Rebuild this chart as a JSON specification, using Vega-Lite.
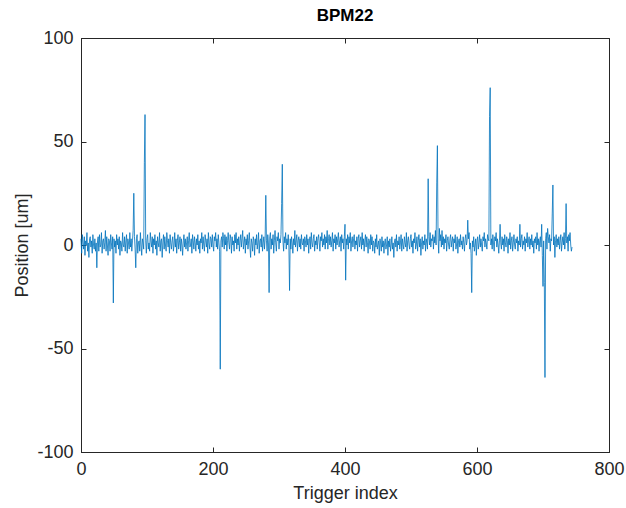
{
"$schema":"https://vega.github.io/schema/vega-lite/v6.json",
"autosize":"none",
"width":528,"height":414,
"padding":{"left":81,"top":38,"right":17,"bottom":56},
"background":"white",
"title":{"text":"BPM22","font":"Liberation Sans","fontSize":17,"fontWeight":"bold","color":"#000000","offset":4},
"config":{"view":{"stroke":"#262626","strokeWidth":1},
"axis":{"grid":false,"domainColor":"#262626","tickColor":"#262626","labelColor":"#262626","titleColor":"#262626","labelFont":"Liberation Sans","titleFont":"Liberation Sans","labelFontSize":18,"titleFontSize":18,"titleFontWeight":"normal","tickSize":-5,"labelFlush":false,"labelExpr":"toString(datum.value)"}},
"data":{"values":[
{"i":0,"v":3},{"i":1,"v":-4},{"i":2,"v":5},{"i":3,"v":1},{"i":4,"v":-2},{"i":5,"v":4},{"i":6,"v":-5},{"i":7,"v":2},{"i":8,"v":0},{"i":9,"v":6},{"i":10,"v":-3},{"i":11,"v":1},{"i":12,"v":-6},{"i":13,"v":3},{"i":14,"v":4},{"i":15,"v":-1},{"i":16,"v":2},{"i":17,"v":-4},{"i":18,"v":5},{"i":19,"v":0},
{"i":20,"v":-2},{"i":21,"v":3},{"i":22,"v":-3},{"i":23,"v":1},{"i":24,"v":-11},{"i":25,"v":2},{"i":26,"v":4},{"i":27,"v":-3},{"i":28,"v":5},{"i":29,"v":-1},{"i":30,"v":0},{"i":31,"v":6},{"i":32,"v":-4},{"i":33,"v":2},{"i":34,"v":3},{"i":35,"v":-2},{"i":36,"v":1},{"i":37,"v":7},{"i":38,"v":-3},{"i":39,"v":4},
{"i":40,"v":0},{"i":41,"v":-5},{"i":42,"v":3},{"i":43,"v":2},{"i":44,"v":-3},{"i":45,"v":5},{"i":46,"v":1},{"i":47,"v":-2},{"i":48,"v":4},{"i":49,"v":-28},{"i":50,"v":3},{"i":51,"v":-1},{"i":52,"v":2},{"i":53,"v":-4},{"i":54,"v":5},{"i":55,"v":0},{"i":56,"v":3},{"i":57,"v":-2},{"i":58,"v":4},{"i":59,"v":-5},
{"i":60,"v":2},{"i":61,"v":1},{"i":62,"v":-3},{"i":63,"v":6},{"i":64,"v":0},{"i":65,"v":-1},{"i":66,"v":4},{"i":67,"v":-3},{"i":68,"v":2},{"i":69,"v":5},{"i":70,"v":-4},{"i":71,"v":3},{"i":72,"v":1},{"i":73,"v":-2},{"i":74,"v":6},{"i":75,"v":-1},{"i":76,"v":3},{"i":77,"v":-3},{"i":78,"v":2},{"i":79,"v":7},
{"i":80,"v":25},{"i":81,"v":4},{"i":82,"v":-2},{"i":83,"v":-11},{"i":84,"v":3},{"i":85,"v":5},{"i":86,"v":-4},{"i":87,"v":1},{"i":88,"v":2},{"i":89,"v":-3},{"i":90,"v":6},{"i":91,"v":0},{"i":92,"v":-5},{"i":93,"v":3},{"i":94,"v":1},{"i":95,"v":-2},{"i":96,"v":40},{"i":97,"v":63},{"i":98,"v":2},{"i":99,"v":-4},
{"i":100,"v":3},{"i":101,"v":5},{"i":102,"v":-2},{"i":103,"v":1},{"i":104,"v":-3},{"i":105,"v":6},{"i":106,"v":2},{"i":107,"v":-1},{"i":108,"v":4},{"i":109,"v":-4},{"i":110,"v":3},{"i":111,"v":0},{"i":112,"v":5},{"i":113,"v":-2},{"i":114,"v":2},{"i":115,"v":-5},{"i":116,"v":4},{"i":117,"v":1},{"i":118,"v":-1},{"i":119,"v":6},
{"i":120,"v":-3},{"i":121,"v":2},{"i":122,"v":3},{"i":123,"v":-6},{"i":124,"v":1},{"i":125,"v":5},{"i":126,"v":-2},{"i":127,"v":4},{"i":128,"v":0},{"i":129,"v":-3},{"i":130,"v":6},{"i":131,"v":2},{"i":132,"v":-1},{"i":133,"v":3},{"i":134,"v":-4},{"i":135,"v":5},{"i":136,"v":1},{"i":137,"v":-2},{"i":138,"v":2},{"i":139,"v":4},
{"i":140,"v":-3},{"i":141,"v":0},{"i":142,"v":6},{"i":143,"v":-1},{"i":144,"v":3},{"i":145,"v":-4},{"i":146,"v":2},{"i":147,"v":5},{"i":148,"v":-2},{"i":149,"v":1},{"i":150,"v":4},{"i":151,"v":-3},{"i":152,"v":3},{"i":153,"v":0},{"i":154,"v":-5},{"i":155,"v":2},{"i":156,"v":5},{"i":157,"v":-1},{"i":158,"v":3},{"i":159,"v":-2},
{"i":160,"v":1},{"i":161,"v":4},{"i":162,"v":-3},{"i":163,"v":2},{"i":164,"v":6},{"i":165,"v":-1},{"i":166,"v":0},{"i":167,"v":3},{"i":168,"v":-4},{"i":169,"v":5},{"i":170,"v":2},{"i":171,"v":-2},{"i":172,"v":4},{"i":173,"v":1},{"i":174,"v":-3},{"i":175,"v":3},{"i":176,"v":0},{"i":177,"v":5},{"i":178,"v":-2},{"i":179,"v":2},
{"i":180,"v":-4},{"i":181,"v":3},{"i":182,"v":1},{"i":183,"v":6},{"i":184,"v":-2},{"i":185,"v":4},{"i":186,"v":0},{"i":187,"v":-3},{"i":188,"v":5},{"i":189,"v":2},{"i":190,"v":-1},{"i":191,"v":3},{"i":192,"v":-4},{"i":193,"v":6},{"i":194,"v":1},{"i":195,"v":-2},{"i":196,"v":4},{"i":197,"v":3},{"i":198,"v":-1},{"i":199,"v":5},
{"i":200,"v":0},{"i":201,"v":-3},{"i":202,"v":4},{"i":203,"v":2},{"i":204,"v":6},{"i":205,"v":-1},{"i":206,"v":3},{"i":207,"v":-2},{"i":208,"v":5},{"i":209,"v":1},{"i":210,"v":-3},{"i":211,"v":-60},{"i":212,"v":2},{"i":213,"v":4},{"i":214,"v":-1},{"i":215,"v":6},{"i":216,"v":3},{"i":217,"v":-2},{"i":218,"v":5},{"i":219,"v":0},
{"i":220,"v":4},{"i":221,"v":-3},{"i":222,"v":2},{"i":223,"v":6},{"i":224,"v":1},{"i":225,"v":-2},{"i":226,"v":5},{"i":227,"v":3},{"i":228,"v":-4},{"i":229,"v":4},{"i":230,"v":0},{"i":231,"v":2},{"i":232,"v":-3},{"i":233,"v":5},{"i":234,"v":1},{"i":235,"v":6},{"i":236,"v":-2},{"i":237,"v":3},{"i":238,"v":0},{"i":239,"v":4},
{"i":240,"v":-3},{"i":241,"v":2},{"i":242,"v":5},{"i":243,"v":-1},{"i":244,"v":3},{"i":245,"v":7},{"i":246,"v":-2},{"i":247,"v":1},{"i":248,"v":4},{"i":249,"v":-4},{"i":250,"v":3},{"i":251,"v":0},{"i":252,"v":5},{"i":253,"v":-2},{"i":254,"v":2},{"i":255,"v":6},{"i":256,"v":-1},{"i":257,"v":-6},{"i":258,"v":3},{"i":259,"v":1},
{"i":260,"v":-3},{"i":261,"v":4},{"i":262,"v":2},{"i":263,"v":-5},{"i":264,"v":3},{"i":265,"v":0},{"i":266,"v":5},{"i":267,"v":-2},{"i":268,"v":1},{"i":269,"v":6},{"i":270,"v":-4},{"i":271,"v":2},{"i":272,"v":3},{"i":273,"v":-1},{"i":274,"v":5},{"i":275,"v":-3},{"i":276,"v":1},{"i":277,"v":4},{"i":278,"v":-2},{"i":279,"v":3},
{"i":280,"v":24},{"i":281,"v":2},{"i":282,"v":-3},{"i":283,"v":5},{"i":284,"v":1},{"i":285,"v":-23},{"i":286,"v":4},{"i":287,"v":6},{"i":288,"v":-2},{"i":289,"v":3},{"i":290,"v":0},{"i":291,"v":5},{"i":292,"v":-4},{"i":293,"v":2},{"i":294,"v":7},{"i":295,"v":1},{"i":296,"v":-3},{"i":297,"v":4},{"i":298,"v":2},{"i":299,"v":6},
{"i":300,"v":-2},{"i":301,"v":3},{"i":302,"v":1},{"i":303,"v":5},{"i":304,"v":20},{"i":305,"v":39},{"i":306,"v":2},{"i":307,"v":-3},{"i":308,"v":4},{"i":309,"v":1},{"i":310,"v":6},{"i":311,"v":-2},{"i":312,"v":3},{"i":313,"v":0},{"i":314,"v":5},{"i":315,"v":-1},{"i":316,"v":-22},{"i":317,"v":3},{"i":318,"v":-2},{"i":319,"v":4},
{"i":320,"v":1},{"i":321,"v":-4},{"i":322,"v":3},{"i":323,"v":0},{"i":324,"v":7},{"i":325,"v":-1},{"i":326,"v":2},{"i":327,"v":5},{"i":328,"v":-3},{"i":329,"v":2},{"i":330,"v":4},{"i":331,"v":-1},{"i":332,"v":3},{"i":333,"v":-2},{"i":334,"v":5},{"i":335,"v":1},{"i":336,"v":0},{"i":337,"v":3},{"i":338,"v":-3},{"i":339,"v":4},
{"i":340,"v":2},{"i":341,"v":-1},{"i":342,"v":5},{"i":343,"v":0},{"i":344,"v":3},{"i":345,"v":-4},{"i":346,"v":2},{"i":347,"v":4},{"i":348,"v":-2},{"i":349,"v":6},{"i":350,"v":1},{"i":351,"v":-1},{"i":352,"v":3},{"i":353,"v":5},{"i":354,"v":-3},{"i":355,"v":2},{"i":356,"v":0},{"i":357,"v":4},{"i":358,"v":-2},{"i":359,"v":3},
{"i":360,"v":5},{"i":361,"v":1},{"i":362,"v":-3},{"i":363,"v":4},{"i":364,"v":2},{"i":365,"v":6},{"i":366,"v":-1},{"i":367,"v":3},{"i":368,"v":0},{"i":369,"v":5},{"i":370,"v":-2},{"i":371,"v":4},{"i":372,"v":1},{"i":373,"v":7},{"i":374,"v":-2},{"i":375,"v":3},{"i":376,"v":5},{"i":377,"v":0},{"i":378,"v":4},{"i":379,"v":-1},
{"i":380,"v":2},{"i":381,"v":6},{"i":382,"v":-3},{"i":383,"v":3},{"i":384,"v":1},{"i":385,"v":5},{"i":386,"v":-2},{"i":387,"v":4},{"i":388,"v":0},{"i":389,"v":3},{"i":390,"v":6},{"i":391,"v":-1},{"i":392,"v":2},{"i":393,"v":4},{"i":394,"v":-3},{"i":395,"v":5},{"i":396,"v":1},{"i":397,"v":3},{"i":398,"v":-2},{"i":399,"v":4},
{"i":400,"v":10},{"i":401,"v":-17},{"i":402,"v":3},{"i":403,"v":0},{"i":404,"v":5},{"i":405,"v":-2},{"i":406,"v":4},{"i":407,"v":1},{"i":408,"v":6},{"i":409,"v":-3},{"i":410,"v":2},{"i":411,"v":4},{"i":412,"v":-1},{"i":413,"v":3},{"i":414,"v":5},{"i":415,"v":-2},{"i":416,"v":2},{"i":417,"v":0},{"i":418,"v":4},{"i":419,"v":-3},
{"i":420,"v":3},{"i":421,"v":5},{"i":422,"v":-1},{"i":423,"v":2},{"i":424,"v":4},{"i":425,"v":-2},{"i":426,"v":6},{"i":427,"v":0},{"i":428,"v":3},{"i":429,"v":-3},{"i":430,"v":2},{"i":431,"v":5},{"i":432,"v":-1},{"i":433,"v":4},{"i":434,"v":1},{"i":435,"v":-4},{"i":436,"v":3},{"i":437,"v":2},{"i":438,"v":-2},{"i":439,"v":5},
{"i":440,"v":0},{"i":441,"v":4},{"i":442,"v":-3},{"i":443,"v":2},{"i":444,"v":1},{"i":445,"v":-4},{"i":446,"v":3},{"i":447,"v":-1},{"i":448,"v":5},{"i":449,"v":-2},{"i":450,"v":0},{"i":451,"v":2},{"i":452,"v":-5},{"i":453,"v":3},{"i":454,"v":1},{"i":455,"v":-3},{"i":456,"v":4},{"i":457,"v":-1},{"i":458,"v":2},{"i":459,"v":-4},
{"i":460,"v":1},{"i":461,"v":3},{"i":462,"v":-2},{"i":463,"v":0},{"i":464,"v":4},{"i":465,"v":-5},{"i":466,"v":2},{"i":467,"v":-1},{"i":468,"v":3},{"i":469,"v":-3},{"i":470,"v":0},{"i":471,"v":4},{"i":472,"v":-2},{"i":473,"v":1},{"i":474,"v":-6},{"i":475,"v":2},{"i":476,"v":3},{"i":477,"v":-1},{"i":478,"v":5},{"i":479,"v":-3},
{"i":480,"v":2},{"i":481,"v":0},{"i":482,"v":4},{"i":483,"v":-2},{"i":484,"v":1},{"i":485,"v":5},{"i":486,"v":-3},{"i":487,"v":3},{"i":488,"v":0},{"i":489,"v":-2},{"i":490,"v":4},{"i":491,"v":1},{"i":492,"v":-1},{"i":493,"v":6},{"i":494,"v":-3},{"i":495,"v":2},{"i":496,"v":4},{"i":497,"v":0},{"i":498,"v":-2},{"i":499,"v":3},
{"i":500,"v":5},{"i":501,"v":-1},{"i":502,"v":2},{"i":503,"v":-4},{"i":504,"v":3},{"i":505,"v":1},{"i":506,"v":6},{"i":507,"v":-2},{"i":508,"v":0},{"i":509,"v":4},{"i":510,"v":-3},{"i":511,"v":2},{"i":512,"v":5},{"i":513,"v":-1},{"i":514,"v":3},{"i":515,"v":-5},{"i":516,"v":1},{"i":517,"v":4},{"i":518,"v":-2},{"i":519,"v":2},
{"i":520,"v":0},{"i":521,"v":5},{"i":522,"v":-3},{"i":523,"v":3},{"i":524,"v":1},{"i":525,"v":-2},{"i":526,"v":32},{"i":527,"v":4},{"i":528,"v":0},{"i":529,"v":6},{"i":530,"v":-1},{"i":531,"v":3},{"i":532,"v":2},{"i":533,"v":5},{"i":534,"v":-2},{"i":535,"v":4},{"i":536,"v":1},{"i":537,"v":7},{"i":538,"v":0},{"i":539,"v":30},
{"i":540,"v":48},{"i":541,"v":3},{"i":542,"v":-4},{"i":543,"v":8},{"i":544,"v":2},{"i":545,"v":5},{"i":546,"v":-1},{"i":547,"v":7},{"i":548,"v":0},{"i":549,"v":4},{"i":550,"v":-2},{"i":551,"v":3},{"i":552,"v":1},{"i":553,"v":5},{"i":554,"v":-3},{"i":555,"v":2},{"i":556,"v":4},{"i":557,"v":0},{"i":558,"v":-2},{"i":559,"v":3},
{"i":560,"v":5},{"i":561,"v":-1},{"i":562,"v":2},{"i":563,"v":4},{"i":564,"v":-3},{"i":565,"v":3},{"i":566,"v":1},{"i":567,"v":5},{"i":568,"v":-2},{"i":569,"v":0},{"i":570,"v":4},{"i":571,"v":-4},{"i":572,"v":2},{"i":573,"v":3},{"i":574,"v":-1},{"i":575,"v":5},{"i":576,"v":0},{"i":577,"v":2},{"i":578,"v":-2},{"i":579,"v":4},
{"i":580,"v":1},{"i":581,"v":-3},{"i":582,"v":3},{"i":583,"v":5},{"i":584,"v":0},{"i":585,"v":2},{"i":586,"v":12},{"i":587,"v":3},{"i":588,"v":6},{"i":589,"v":-2},{"i":590,"v":1},{"i":591,"v":-4},{"i":592,"v":-23},{"i":593,"v":2},{"i":594,"v":-1},{"i":595,"v":4},{"i":596,"v":-3},{"i":597,"v":0},{"i":598,"v":3},{"i":599,"v":-5},
{"i":600,"v":2},{"i":601,"v":4},{"i":602,"v":-2},{"i":603,"v":1},{"i":604,"v":5},{"i":605,"v":-1},{"i":606,"v":3},{"i":607,"v":0},{"i":608,"v":-3},{"i":609,"v":4},{"i":610,"v":2},{"i":611,"v":6},{"i":612,"v":-1},{"i":613,"v":3},{"i":614,"v":1},{"i":615,"v":-2},{"i":616,"v":5},{"i":617,"v":3},{"i":618,"v":2},{"i":619,"v":62},
{"i":620,"v":76},{"i":621,"v":0},{"i":622,"v":3},{"i":623,"v":-2},{"i":624,"v":5},{"i":625,"v":1},{"i":626,"v":-3},{"i":627,"v":4},{"i":628,"v":2},{"i":629,"v":6},{"i":630,"v":-1},{"i":631,"v":3},{"i":632,"v":0},{"i":633,"v":-4},{"i":634,"v":2},{"i":635,"v":10},{"i":636,"v":1},{"i":637,"v":-2},{"i":638,"v":4},{"i":639,"v":0},
{"i":640,"v":3},{"i":641,"v":-3},{"i":642,"v":5},{"i":643,"v":1},{"i":644,"v":-1},{"i":645,"v":4},{"i":646,"v":2},{"i":647,"v":-4},{"i":648,"v":3},{"i":649,"v":0},{"i":650,"v":6},{"i":651,"v":-2},{"i":652,"v":2},{"i":653,"v":4},{"i":654,"v":-3},{"i":655,"v":1},{"i":656,"v":5},{"i":657,"v":0},{"i":658,"v":-2},{"i":659,"v":3},
{"i":660,"v":1},{"i":661,"v":4},{"i":662,"v":-3},{"i":663,"v":2},{"i":664,"v":0},{"i":665,"v":10},{"i":666,"v":-1},{"i":667,"v":3},{"i":668,"v":5},{"i":669,"v":-2},{"i":670,"v":2},{"i":671,"v":0},{"i":672,"v":4},{"i":673,"v":-3},{"i":674,"v":3},{"i":675,"v":1},{"i":676,"v":6},{"i":677,"v":-1},{"i":678,"v":2},{"i":679,"v":4},
{"i":680,"v":-2},{"i":681,"v":3},{"i":682,"v":0},{"i":683,"v":5},{"i":684,"v":-1},{"i":685,"v":2},{"i":686,"v":-4},{"i":687,"v":3},{"i":688,"v":1},{"i":689,"v":4},{"i":690,"v":-2},{"i":691,"v":6},{"i":692,"v":0},{"i":693,"v":3},{"i":694,"v":-3},{"i":695,"v":2},{"i":696,"v":4},{"i":697,"v":-1},{"i":698,"v":10},{"i":699,"v":-5},
{"i":700,"v":-20},{"i":701,"v":2},{"i":702,"v":-18},{"i":703,"v":-64},{"i":704,"v":3},{"i":705,"v":6},{"i":706,"v":-2},{"i":707,"v":8},{"i":708,"v":4},{"i":709,"v":1},{"i":710,"v":5},{"i":711,"v":-3},{"i":712,"v":3},{"i":713,"v":2},{"i":714,"v":15},{"i":715,"v":29},{"i":716,"v":0},{"i":717,"v":4},{"i":718,"v":-6},{"i":719,"v":2},
{"i":720,"v":5},{"i":721,"v":-1},{"i":722,"v":3},{"i":723,"v":0},{"i":724,"v":4},{"i":725,"v":-2},{"i":726,"v":2},{"i":727,"v":5},{"i":728,"v":-3},{"i":729,"v":1},{"i":730,"v":4},{"i":731,"v":0},{"i":732,"v":6},{"i":733,"v":-2},{"i":734,"v":3},{"i":735,"v":20},{"i":736,"v":1},{"i":737,"v":4},{"i":738,"v":-3},{"i":739,"v":5},
{"i":740,"v":2},{"i":741,"v":6},{"i":742,"v":0},{"i":743,"v":-3},{"i":744,"v":-1}
]},
"layer":[
{"mark":{"type":"line","color":"#0072BD","strokeWidth":0.8},
"encoding":{
"x":{"field":"i","type":"quantitative","scale":{"domain":[0,800],"nice":false},"axis":{"values":[0,200,400,600,800],"title":"Trigger index","labelPadding":13,"titlePadding":6}},
"y":{"field":"v","type":"quantitative","scale":{"domain":[-100,100],"nice":false},"axis":{"values":[-100,-50,0,50,100],"title":"Position [um]","labelPadding":13,"titlePadding":5}}}},
{"mark":{"type":"line","opacity":0},
"encoding":{
"x":{"field":"i","type":"quantitative","axis":{"orient":"top","values":[0,200,400,600,800],"labels":false,"title":null,"domain":false}},
"y":{"field":"v","type":"quantitative","axis":{"orient":"right","values":[-100,-50,0,50,100],"labels":false,"title":null,"domain":false}}}}
],
"resolve":{"axis":{"x":"independent","y":"independent"}}
}
